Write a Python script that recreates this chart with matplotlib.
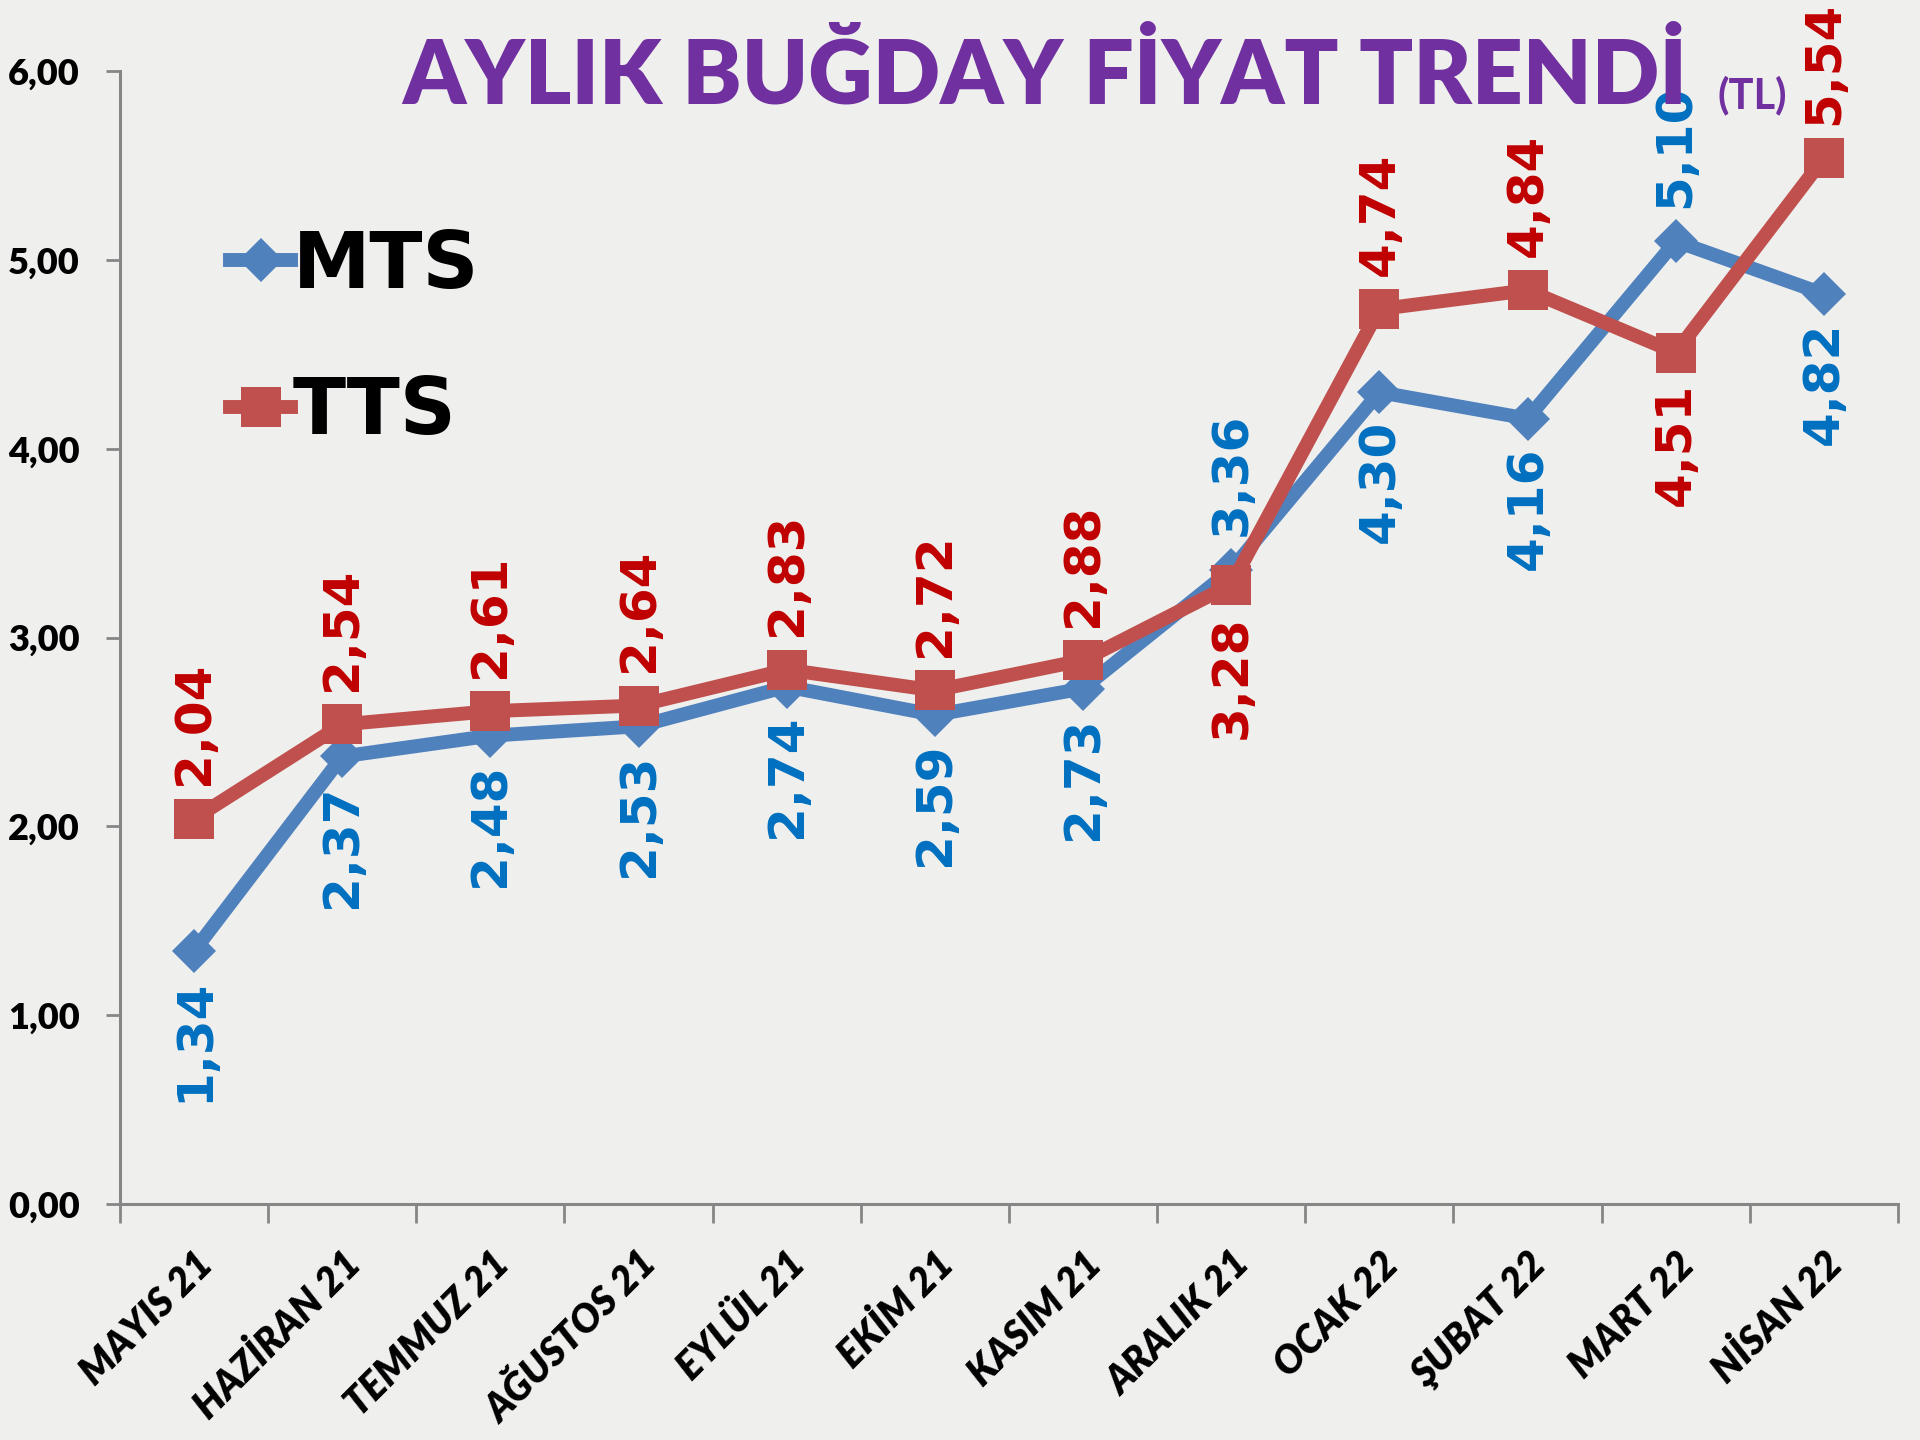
import matplotlib
matplotlib.use('Agg')
from matplotlib import pyplot as plt
from matplotlib.ticker import FuncFormatter, FixedLocator
import numpy as np

months = ['MAYIS 21', 'HAZİRAN 21', 'TEMMUZ 21', 'AĞUSTOS 21', 'EYLÜL 21', 'EKİM 21',
          'KASIM 21', 'ARALIK 21', 'OCAK 22', 'ŞUBAT 22', 'MART 22', 'NİSAN 22']
mts = [1.34, 2.37, 2.48, 2.53, 2.74, 2.59, 2.73, 3.36, 4.30, 4.16, 5.10, 4.82]
tts = [2.04, 2.54, 2.61, 2.64, 2.83, 2.72, 2.88, 3.28, 4.74, 4.84, 4.51, 5.54]
# labels that sit on the "other" side of the point
mts_above = [7, 10]
tts_below = [7, 10]

tick_font = ['Lato', 'DejaVu Sans']
label_font = ['DejaVu Sans']

bg = '#efefed'
fig = plt.figure(figsize=(19.2, 14.4), dpi=100, facecolor=bg)
ax = fig.add_axes([0.0625, 0.164, 0.926, 0.7865])
ax.set_facecolor(bg)

x = np.arange(len(months))
l1, = ax.plot(x, mts, color='#4F81BD', lw=10, marker='D', ms=22,
              markeredgewidth=0, label='MTS', zorder=3)
l2, = ax.plot(x, tts, color='#C0504D', lw=10, marker='s', ms=29,
              markeredgewidth=0, label='TTS', zorder=4)

def fmt(v):
    return f'{v:.2f}'.replace('.', ',')

for i, v in enumerate(mts):
    up = i in mts_above
    ax.annotate(fmt(v), (i, v), xytext=(0, 24 if up else -20),
                textcoords='offset points', rotation=90, ha='center',
                va='bottom' if up else 'top', color='#0070C0', fontsize=36,
                fontweight='bold', family=label_font, annotation_clip=False, zorder=5)
for i, v in enumerate(tts):
    down = i in tts_below
    ax.annotate(fmt(v), (i, v), xytext=(0, -22 if down else 24),
                textcoords='offset points', rotation=90, ha='center',
                va='top' if down else 'bottom', color='#C00000', fontsize=36,
                fontweight='bold', family=label_font, annotation_clip=False, zorder=5)

ax.set_xlim(-0.5, len(months) - 0.5)
ax.set_ylim(0, 6)
ax.yaxis.set_major_locator(FixedLocator(np.arange(0, 7, 1)))
ax.yaxis.set_major_formatter(FuncFormatter(lambda v, p: fmt(v)))
ax.set_xticks(x)
ax.set_xticklabels(months, rotation=45, ha='right', va='top', rotation_mode='anchor',
                   fontsize=28, fontweight='heavy', fontstyle='italic', family=tick_font)
ax.set_xticks(np.arange(-0.5, len(months)), minor=True)
ax.tick_params(axis='x', which='major', length=0, pad=30)
ax.tick_params(axis='x', which='minor', length=14, width=2, color='#868686')
ax.tick_params(axis='y', length=10, width=2, color='#868686', pad=19)
for t in ax.get_yticklabels():
    t.set_fontsize(26)
    t.set_fontweight('heavy')
    t.set_family(tick_font)
for s in ['top', 'right']:
    ax.spines[s].set_visible(False)
for s in ['left', 'bottom']:
    ax.spines[s].set_color('#868686')
    ax.spines[s].set_linewidth(2.2)

leg = ax.legend(handles=[l1, l2], loc='upper left', bbox_to_anchor=(0.12, 0.842),
                bbox_transform=fig.transFigure, frameon=False, handlelength=0.78,
                handletextpad=0.02, labelspacing=0.91, borderpad=0, borderaxespad=0,
                prop={'family': label_font, 'weight': 'bold', 'size': 56})

fig.text(0.544, 0.947, 'AYLIK BUĞDAY FİYAT TRENDİ', ha='center', va='center',
         color='#7030A0', fontsize=64, fontweight='heavy', family=tick_font)
fig.text(0.9125, 0.934, '(TL)', ha='center', va='center', color='#7030A0',
         fontsize=30, fontweight='bold', family=tick_font)

fig.savefig('out.png', dpi=100, facecolor=bg)
plt.close(fig)
